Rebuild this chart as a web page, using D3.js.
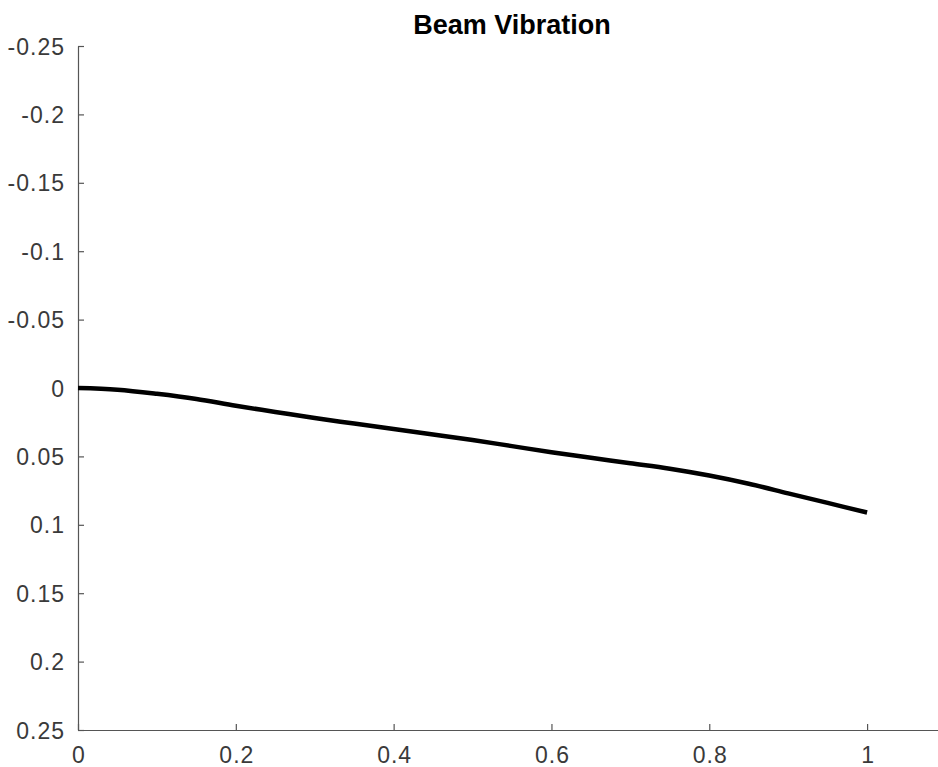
<!DOCTYPE html>
<html>
<head>
<meta charset="utf-8">
<script src="https://cdn.jsdelivr.net/npm/d3@7"></script>
<style>
  body { margin: 0; background: #fff; }
  .tick text { font-family: "Liberation Sans", Arial, sans-serif; font-size: 23px; fill: #3a3a3a; letter-spacing: 1px; }
</style>
</head>
<body>
<div class="chart"></div>
<script>
// beam deflection along its length
var xs = [0, 0.05, 0.1, 0.15, 0.2, 0.25, 0.3, 0.35, 0.4, 0.45, 0.5, 0.55, 0.6, 0.65, 0.7, 0.75, 0.8, 0.85, 0.9, 0.95, 1.0];
var ys = [0, 0.0012, 0.0042, 0.008, 0.013, 0.0175, 0.022, 0.026, 0.030, 0.034, 0.038, 0.0425, 0.047, 0.051, 0.055, 0.059, 0.064, 0.070, 0.077, 0.084, 0.091];
var xTicks = [0, 0.2, 0.4, 0.6, 0.8, 1];
var yTicks = [-0.25, -0.2, -0.15, -0.1, -0.05, 0, 0.05, 0.1, 0.15, 0.2, 0.25];
var title = "Beam Vibration";

var w = 938, h = 767;
var padL = 78, padR = 946, padT = 46, padB = 730;

var svg = d3.select(".chart")
  .append("svg")
  .attr("width", w + "px")
  .attr("height", h + "px");

var x = d3.scaleLinear().domain([0, 1.1]).range([padL, padR]);
// y runs downward: -0.25 on top
var y = d3.scaleLinear().domain([-0.25, 0.25]).range([padT, padB]);

var fmt = function(d) { return String(+d.toFixed(2)); };

var gx = svg.append("g")
  .attr("transform", "translate(0," + padB + ")")
  .call(d3.axisBottom(x).tickValues(xTicks).tickFormat(fmt).tickSize(-6).tickSizeOuter(0).tickPadding(16));
var gy = svg.append("g")
  .attr("transform", "translate(" + padL + ",0)")
  .call(d3.axisLeft(y).tickValues(yTicks).tickFormat(fmt).tickSize(-6).tickSizeOuter(0).tickPadding(13));

[gx, gy].forEach(function(g) {
  g.select(".domain").attr("stroke", "#555").attr("stroke-width", 1.2);
  g.selectAll(".tick line").attr("stroke", "#555").attr("stroke-width", 1.2);
});
gy.selectAll(".tick text").attr("dy", "0.35em");
gx.selectAll(".tick text").attr("dy", "0.72em").attr("dx", "0.5px");

var line = d3.line()
  .x(function(d, i) { return x(xs[i]); })
  .y(function(d) { return y(d); })
  .curve(d3.curveCatmullRom);

svg.append("path")
  .datum(ys)
  .attr("d", line)
  .attr("fill", "none")
  .attr("stroke", "#000")
  .attr("stroke-width", 4.5);

svg.append("text")
  .attr("x", (padL + padR) / 2)
  .attr("y", 34)
  .attr("text-anchor", "middle")
  .style("font-family", "Liberation Sans, Arial, sans-serif")
  .style("font-weight", "bold")
  .style("font-size", "27px")
  .style("fill", "#000")
  .text(title);
</script>
</body>
</html>
